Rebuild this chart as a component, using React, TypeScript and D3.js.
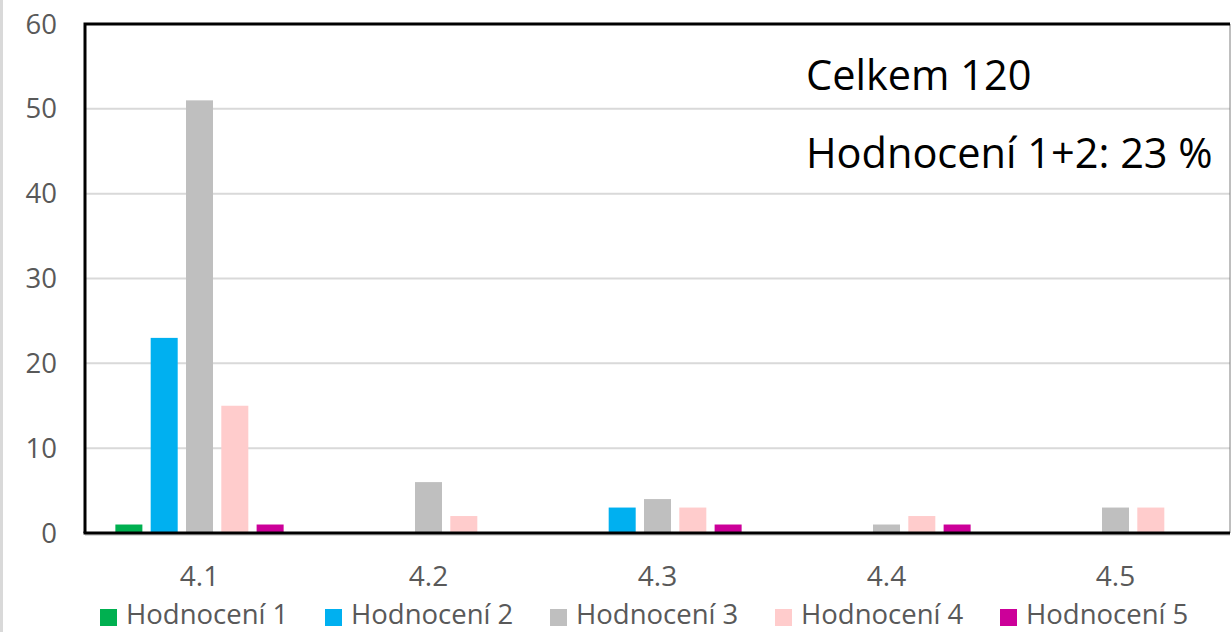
import React from "react";
import * as d3 from "d3";

const categories = ["4.1", "4.2", "4.3", "4.4", "4.5"];
const seriesNames = ["Hodnocení 1", "Hodnocení 2", "Hodnocení 3", "Hodnocení 4", "Hodnocení 5"];
const seriesColors = ["#00B050", "#00B0F0", "#BFBFBF", "#FFCCCC", "#CC0099"];
const h1 = [1, 0, 0, 0, 0];
const h2 = [23, 0, 3, 0, 0];
const h3 = [51, 6, 4, 1, 3];
const h4 = [15, 2, 3, 2, 3];
const h5 = [1, 0, 1, 1, 0];
const seriesValues = [h1, h2, h3, h4, h5];
const yTicks = [0, 10, 20, 30, 40, 50, 60];
const annotations = ["Celkem 120", "Hodnocení 1+2: 23 %"];

const W = 1232;
const H = 632;
const left = 85;
const right = 1230;
const top = 24;
const bottom = 533;
const FONT = "'Open Sans', sans-serif";

export default function App() {
  const x0 = d3.scaleBand<string>().domain(categories).range([left, right]).padding(0);
  const x1 = d3
    .scaleBand<string>()
    .domain(seriesNames)
    .range([0, x0.bandwidth()])
    .paddingInner(0.235)
    .paddingOuter(0.86);
  const y = d3.scaleLinear().domain([0, 60]).range([bottom, top]);

  return (
    <svg
      width={W}
      height={H}
      style={{ position: "absolute", left: 0, top: 0, background: "#fff" }}
      fontFamily={FONT}
    >
      <rect x={0} y={0} width={3} height={H} fill="#d9d9d9" />
      {/* gridlines */}
      {yTicks.map((t) => (
        <line key={t} x1={left} x2={right} y1={y(t) + (t === 0 ? 2 : 0)} y2={y(t) + (t === 0 ? 2 : 0)} stroke="#d9d9d9" strokeWidth={2} />
      ))}
      {/* bars */}
      {categories.map((c, ci) =>
        seriesNames.map((s, si) => {
          const v = seriesValues[si][ci];
          if (!v) return null;
          return (
            <rect
              key={c + s}
              x={(x0(c) ?? 0) + (x1(s) ?? 0)}
              y={y(v)}
              width={x1.bandwidth()}
              height={y(0) - y(v)}
              fill={seriesColors[si]}
            />
          );
        })
      )}
      {/* frame */}
      <line x1={right} x2={right} y1={top} y2={bottom} stroke="#7f7f7f" strokeWidth={1} />
      <path d={`M${left},${bottom}V${top}H${right}`} fill="none" stroke="#000" strokeWidth={3} />
      <line x1={left - 1.5} x2={right} y1={bottom} y2={bottom} stroke="#000" strokeWidth={3} />
      {/* y tick labels */}
      {yTicks.map((t) => (
        <text key={t} x={57} y={y(t)} dy="0.35em" textAnchor="end" fontSize={27.5} fill="#595959">
          {t}
        </text>
      ))}
      {/* x labels */}
      {categories.map((c) => (
        <text key={c} x={(x0(c) ?? 0) + x0.bandwidth() / 2} y={576} dy="0.35em" textAnchor="middle" fontSize={28} fill="#595959">
          {c}
        </text>
      ))}
      {/* annotations */}
      <text x={806} y={90} fontSize={41.5} fill="#000">{annotations[0]}</text>
      <text x={806} y={168} fontSize={41.5} fill="#000">{annotations[1]}</text>
      {/* legend */}
      {seriesNames.map((s, i) => {
        const lx = 100 + i * 225;
        return (
          <g key={s}>
            <rect x={lx} y={609} width={17} height={17} fill={seriesColors[i]} />
            <text x={lx + 26} y={624} fontSize={27.5} fill="#595959">
              {s}
            </text>
          </g>
        );
      })}
    </svg>
  );
}
